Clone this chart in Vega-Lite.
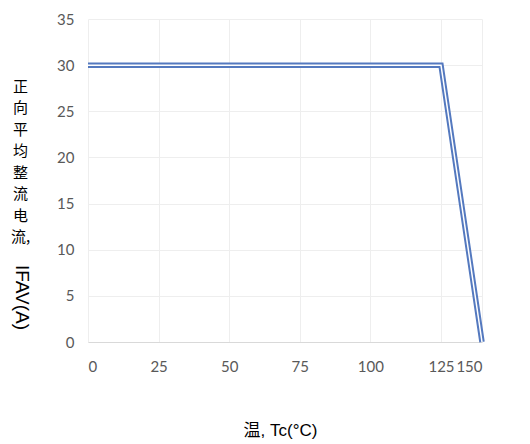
{
  "$schema": "https://vega.github.io/schema/vega-lite/v6.json",
  "width": 394,
  "height": 323,
  "autosize": "none",
  "padding": {"left": 88, "top": 19, "right": 48, "bottom": 102},
  "background": "white",
  "title": {
    "text": "IFAV(A)",
    "orient": "left",
    "anchor": "start",
    "frame": "group",
    "angle": 90,
    "align": "right",
    "baseline": "middle",
    "font": "Liberation Sans",
    "fontSize": 19,
    "fontWeight": "normal",
    "color": "#000000",
    "offset": -31,
    "dx": -12
  },
  "data": {
    "values": [
      {"temp": 0, "current": 30},
      {"temp": 125, "current": 30},
      {"temp": 150, "current": 0}
    ]
  },
  "encoding": {
    "x": {
      "field": "temp",
      "type": "quantitative",
      "scale": {"domain": [0, 125, 150], "range": [0, 353, 394], "nice": false, "zero": false},
      "axis": {
        "values": [0, 25, 50, 75, 100, 125, 150],
        "title": "温, Tc(°C)",
        "titleFont": "Liberation Sans, Noto Sans CJK SC",
        "titleFontSize": 17,
        "titleFontWeight": "normal",
        "titleColor": "#000000",
        "titleX": 192,
        "titleY": 88,
        "titleBaseline": "middle",
        "titleAlign": "center",
        "labelFont": "Lato",
        "labelFontSize": 15,
        "labelColor": "#595959",
        "labelPadding": 17,
        "ticks": false,
        "domain": true,
        "domainColor": "#d9d9d9",
        "grid": true,
        "gridColor": "#eeeeee"
      }
    },
    "y": {
      "field": "current",
      "type": "quantitative",
      "scale": {"domain": [0, 35], "nice": false},
      "axis": {
        "values": [0, 5, 10, 15, 20, 25, 30, 35],
        "title": ["正", "向", "平", "均", "整", "流", "电", "流,"],
        "titleAngle": 0,
        "titleFont": "Noto Sans CJK SC",
        "titleFontSize": 15,
        "titleFontWeight": "normal",
        "titleColor": "#000000",
        "titleLineHeight": 21.5,
        "titleX": -68,
        "titleY": 60,
        "titleAlign": "center",
        "titleBaseline": "top",
        "labelFont": "Lato",
        "labelFontSize": 15,
        "labelColor": "#595959",
        "labelPadding": 14,
        "ticks": false,
        "domain": false,
        "grid": true,
        "gridColor": "#eeeeee"
      }
    }
  },
  "layer": [
    {"mark": {"type": "line", "color": "#5479bf", "strokeWidth": 5.5}},
    {"mark": {"type": "line", "color": "#ffffff", "strokeWidth": 1.5}}
  ],
  "config": {"view": {"stroke": null}}
}
